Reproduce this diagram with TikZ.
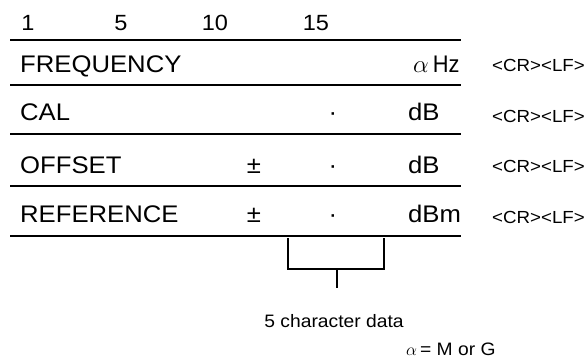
\documentclass[tikz,border=0pt]{standalone}
\usepackage{graphicx}
\usepackage{fontspec}
\setmainfont[FakeStretch=1.07]{Liberation Sans}
\usepackage{tikz}
\usetikzlibrary{positioning, calc}

\begin{document}
\begin{tikzpicture}[
        x=1pt, y=-1pt,
        field/.style={anchor=base west, inner sep=0pt, font=\fontsize{24}{28}\selectfont},
        unit/.style={anchor=base west, inner sep=0pt, font=\fontsize{24}{28}\selectfont},
        sign/.style={anchor=base, inner sep=0pt, font=\fontsize{24}{28}\selectfont},
        colnum/.style={anchor=base, inner sep=0pt, font=\fontsize{22}{26}\selectfont},
        term/.style={anchor=base west, inner sep=0pt, font=\fontsize{17.5}{20}\selectfont},
        note/.style={anchor=base, inner sep=0pt, font=\fontsize{18}{22}\selectfont},
        rule/.style={line width=1.3pt}
    ]
    \useasboundingbox (0,0) rectangle (587,359);

    % ==========================================
    % 1. COLUMN NUMBERS
    % ==========================================
    \node[colnum] (col1)  at (28, 30) {1};
    \node[colnum] (col5)  at (121, 30) {5};
    \node[colnum] (col10) at (215, 30) {10};
    \node[colnum] (col15) at (316, 30) {15};

    % ==========================================
    % 2. RULES
    % ==========================================
    \draw[rule] (10, 40)  -- (461, 40);
    \draw[rule] (10, 85)  -- (461, 85);
    \draw[rule] (10, 134) -- (461, 134);
    \draw[rule] (10, 186) -- (461, 186);
    \draw[rule] (10, 236) -- (461, 236);

    % ==========================================
    % 3. FIELDS
    % ==========================================

    % FREQUENCY
    \node[field] (freq)      at (20, 72) {FREQUENCY};
    \node[unit]  (freq_unit) at (413, 72) {$\alpha$\,\scalebox{0.85}[1]{Hz}};
    \node[term]  (freq_end)  at (492, 71) {<CR><LF>};

    % CAL
    \node[field] (cal)      at (20, 120) {CAL};
    \node[sign]  (cal_dot)  at (333, 120) {·};
    \node[unit]  (cal_unit) at (408, 120) {dB};
    \node[term]  (cal_end)  at (492, 122) {<CR><LF>};

    % OFFSET
    \node[field] (offset)      at (20, 173) {OFFSET};
    \node[sign]  (offset_pm)   at (254, 173) {±};
    \node[sign]  (offset_dot)  at (333, 173) {·};
    \node[unit]  (offset_unit) at (408, 173) {dB};
    \node[term]  (offset_end)  at (492, 172) {<CR><LF>};

    % REFERENCE
    \node[field] (ref)      at (20, 222) {REFERENCE};
    \node[sign]  (ref_pm)   at (254, 222) {±};
    \node[sign]  (ref_dot)  at (333, 222) {·};
    \node[unit]  (ref_unit) at (408, 222) {dBm};
    \node[term]  (ref_end)  at (492, 223) {<CR><LF>};

    % ==========================================
    % 4. DATA BRACKET & NOTES
    % ==========================================
    \coordinate (brk_l) at (288, 238);
    \coordinate (brk_r) at (384, 238);
    \coordinate (brk_tip) at (337, 288);

    \draw[rule] (brk_l) -- ++(0, 31) -| (brk_r);
    \draw[rule] (brk_tip |- 0, 269) -- (brk_tip);

    \node[note] (data)  at (334, 327) {5 character data};
    \node[note, anchor=base west] (alpha) at (406, 355) {$\alpha$\,= M or G};

    \end{tikzpicture}
\end{document}
